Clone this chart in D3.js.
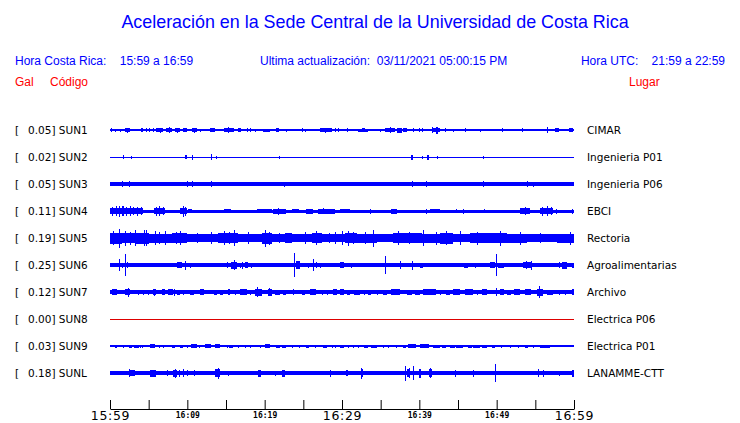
<!DOCTYPE html>
<html><head><meta charset="utf-8">
<script src="https://cdn.jsdelivr.net/npm/d3@7"></script>
<style>body{margin:0;background:#fff}svg{display:block}</style>
</head><body>
<svg id="c" width="740" height="423"></svg>
<script>
// ---------- DATA ----------
const stations = ["SUN1","SUN2","SUN3","SUN4","SUN5","SUN6","SUN7","SUN8","SUN9","SUNL"];
const peaks = [0.05,0.02,0.05,0.11,0.19,0.25,0.12,0.00,0.03,0.18];
const places = ["CIMAR","Ingenieria P01","Ingenieria P06","EBCI","Rectoria","Agroalimentarias","Archivo","Electrica P06","Electrica P01","LANAMME-CTT"];
// baseline half-thickness of each trace (display amplitude units)
const baseHalf = [0.7,0.5,1.7,1.5,2.7,1.7,1.7,0.5,0.7,2.0];
const traceColors = ["#0000ff","#0000ff","#0000ff","#0000ff","#0000ff","#0000ff","#0000ff","#dd0000","#0000ff","#0000ff"];
// bursts: [start minute, end minute, half amplitude], minutes after 15:59
const sun1 = [[0.1,0.2,2],[0.6,0.7,1.5],[1.3,1.4,1.5],[1.9,2.6,1.8],[2.2,2.3,2.5],[4.0,4.3,2],[4.6,4.7,2],[5.0,5.1,2],[5.5,5.6,2],[6.0,6.9,1.8],[6.5,6.6,2.5],[7.3,8.0,2],[7.6,7.7,3],[8.4,9.0,1.8],[8.7,8.8,2.5],[9.5,10.0,1.8],[10.6,11.2,1.8],[10.8,10.9,2.5],[11.6,11.7,1.5],[12.9,13.6,1.8],[14.7,16.0,2],[15.2,15.3,3],[16.6,17.0,1.8],[17.7,17.8,2],[18.1,18.2,2],[18.7,18.8,1.5],[19.8,20.7,1.5],[21.5,21.8,2.2],[22.8,22.9,1.5],[24.8,24.9,2],[25.2,25.3,1.5],[27.1,28.7,1.8],[27.8,27.9,2.5],[29.1,29.2,2],[29.5,29.6,2],[30.6,30.7,2],[32.1,33.4,1.5],[32.6,33.0,2.2],[34.9,35.0,1.5],[35.6,36.9,1.8],[36.2,36.3,3],[37.1,37.7,2.5],[37.9,38.4,1.8],[39.2,39.3,2],[39.9,40.0,2],[40.3,40.4,2],[41.6,42.7,1.8],[41.7,41.8,3],[42.2,42.4,3.5],[43.3,43.5,2],[44.4,44.5,1.5],[45.9,46.0,2],[47.8,47.9,1.5],[50.7,50.8,2],[53.3,53.4,2],[56.5,56.6,3],[57.5,58.0,2.2],[59.3,59.9,2.2]];
const sun2 = [[1.7,1.8,2],[2.7,2.8,1.5],[9.7,10.0,2],[10.6,10.7,2.5],[13.1,13.2,3],[13.7,13.8,1.5],[21.8,21.9,1.5],[38.9,39.2,2.5],[40.3,40.4,1.5],[41.0,41.2,2.5],[42.3,42.4,1.5],[48.2,48.3,1.5]];
const sun3 = [[1.6,1.7,3],[2.4,2.5,2.8],[9.9,10.0,3],[10.6,10.7,3],[13.1,13.2,3.2],[22.5,22.6,2.5],[39.1,39.2,3],[40.9,41.0,3.2],[48.2,48.3,3],[53.9,54.0,3],[54.7,54.8,2.5]];
const sun4 = [[0,4.3,3.2],[0.3,0.4,4.5],[0.8,0.9,5],[1.2,1.3,5.5],[1.6,1.8,5],[2.1,2.2,4.5],[2.6,2.7,5],[3.0,3.1,4],[3.5,3.6,4.5],[4.0,4.1,4],[5.7,7.1,3.2],[6.0,6.1,4.5],[6.4,6.5,5],[6.8,6.9,4],[9.0,10.0,3.2],[9.4,9.5,5.5],[9.7,9.8,4.5],[10.1,10.6,2.3],[14.7,15.7,2.3],[19.0,20.9,2.3],[21.1,22.8,2.5],[21.7,21.8,3.5],[23.5,24.4,2.3],[25.4,26.3,2.5],[26.9,29.1,2.5],[27.6,27.7,3.2],[29.7,31.0,2.2],[33.6,33.7,2.5],[36.4,37.1,2.5],[40.9,41.0,2.5],[41.4,42.7,2.2],[44.7,44.8,2],[45.6,45.7,2.5],[48.4,48.5,2.3],[53.0,54.3,2.8],[53.6,53.7,4],[55.6,57.3,2.8],[55.9,56.0,4.5],[56.5,56.6,5],[57.0,57.1,4],[57.7,57.8,2.5],[59.8,59.9,2.5]];
const sun5 = [[0,1.5,5.5],[0.4,0.5,7],[1.1,1.2,9.5],[1.5,3.2,5],[1.9,2.0,7.5],[2.6,2.7,6.5],[3.2,3.3,8],[3.2,5.0,5.5],[4.4,4.5,8],[4.7,4.8,8],[5.0,8.0,4.5],[5.8,5.9,7],[6.4,6.5,6],[7.1,7.2,7],[8.0,10.0,5],[8.5,8.6,6],[9.0,9.1,7],[10.0,12.3,3.8],[11.2,11.3,5],[12.3,14.0,4],[13.1,13.2,6],[14.0,16.6,5],[14.7,14.8,7],[15.4,15.5,6],[16.0,16.1,8],[16.6,19.6,4],[17.9,18.0,6],[19.6,20.9,5.5],[20.1,20.2,8.5],[20.5,20.6,6.5],[20.9,22.6,4],[21.8,21.9,5],[22.6,23.5,5],[23.5,26.1,4],[25.2,25.3,6],[26.1,27.4,5],[26.7,26.8,7],[27.4,30.4,4],[28.3,28.4,5],[29.1,29.2,6],[30.0,30.1,7],[30.4,31.9,5],[30.8,30.9,7.5],[31.4,31.5,6],[31.9,34.5,4.5],[33.0,33.1,6],[34.0,34.1,8.5],[34.5,36.6,3.8],[36.6,40.3,5],[37.3,37.4,7],[38.6,38.7,6],[40.5,40.6,8],[40.3,42.7,4.5],[42.2,42.3,6.5],[42.7,44.4,5.5],[43.5,43.6,7],[44.4,46.5,4.2],[45.3,45.4,7],[46.5,48.7,5.2],[47.4,47.5,6.5],[48.7,51.3,5],[50.4,50.5,7.5],[51.3,53.9,4.5],[53.0,53.1,6.5],[53.9,57.8,3.8],[55.6,55.7,5],[57.8,60,4.5],[59.5,59.6,6.5]];
const sun6 = [[1.1,1.2,6.3],[1.5,1.6,2.5],[2.0,2.1,10.8],[2.2,2.3,3],[7.3,7.4,2],[8.7,9.3,3],[9.7,9.8,4.5],[10.3,10.4,2.5],[11.7,11.8,2],[15.1,15.2,3],[15.7,16.4,3.5],[16.0,16.1,5],[16.8,16.9,2.5],[17.1,17.2,3.5],[17.5,17.9,3],[18.2,18.3,2.5],[19.3,19.4,2],[21.1,21.2,2],[22.4,22.5,2],[23.8,23.9,11.7],[24.1,24.6,4],[25.6,25.7,2.5],[26.3,26.4,5.8],[26.6,26.7,3],[27.1,27.2,2.5],[29.7,30.2,3],[31.2,31.3,2.5],[34.0,34.1,1.5],[35.5,35.6,8.7],[37.5,37.6,4],[39.0,39.1,4.5],[40.1,40.5,2.5],[44.6,44.7,2],[45.8,46.3,2.5],[47.2,47.3,2.5],[48.4,48.7,2],[49.1,49.8,3],[49.9,50.0,10.8],[50.2,50.9,2.5],[53.0,53.1,1.5],[53.4,54.5,3],[53.8,53.9,4],[54.4,54.5,4.5],[58.0,58.1,3],[58.4,59.1,3.5],[59.7,60,2.5]];
const sun7 = [[0.3,0.9,3],[1.9,2.6,3],[2.3,2.4,4.5],[3.6,3.7,2.5],[4.3,4.4,2.5],[4.9,5.0,2.5],[5.5,6.0,3],[5.7,5.8,3.5],[6.7,7.1,3],[7.5,8.2,3],[8.3,8.4,3.5],[8.6,9.0,2.5],[9.4,9.5,2.5],[10.3,10.8,2.5],[11.6,12.2,3],[13.4,13.8,2.5],[14.2,14.6,2.5],[15.2,15.5,3],[16.2,16.3,2.5],[16.8,17.7,3],[18.1,18.2,2.5],[18.8,19.6,3.5],[19.0,19.1,5],[20.4,20.9,3.5],[20.6,20.7,4],[21.3,22.0,2.5],[22.4,22.8,2.5],[23.7,23.8,3],[24.8,25.2,2.5],[25.9,26.6,3],[27.4,27.5,2.5],[28.0,28.1,2.5],[28.9,29.4,3],[29.7,30.2,3],[30.6,31.0,2.5],[31.5,32.3,2.5],[32.8,32.9,2.5],[33.4,33.8,2.5],[34.5,34.6,2.5],[35.3,35.8,2.5],[36.4,37.5,3],[38.4,39.0,2.5],[39.4,40.1,2.5],[40.5,42.2,3],[42.7,42.8,2.5],[43.5,44.0,2.5],[44.4,45.3,3],[45.9,47.0,3],[47.5,47.6,2.5],[48.1,48.7,3],[49.9,50.0,4.3],[50.4,50.9,3],[51.3,51.8,2.5],[52.2,53.0,3],[53.7,54.5,3],[55.2,56.0,3.5],[55.5,55.6,5.8],[56.5,57.3,2.5],[58.0,58.1,2.5],[58.8,59.0,2.5],[59.7,60,3]];
const sun8 = [];
const sun9 = [[0.6,0.9,1.5],[1.7,1.8,1.5],[2.4,2.8,1.5],[3.1,3.7,1.5],[3.9,4.0,1.5],[4.1,4.2,1.5],[5.2,5.8,2],[6.3,6.4,1.5],[6.8,6.9,1.5],[8.0,8.4,1.5],[9.0,9.5,1.5],[9.9,10.0,1.5],[10.5,11.2,2],[11.5,11.6,1.5],[12.3,13.1,2],[13.6,14.2,2],[15.1,15.2,1.5],[15.4,15.9,1.5],[16.6,16.7,1.5],[17.4,17.5,1.5],[18.1,18.2,1.5],[19.4,19.5,1.5],[20.0,20.7,2],[21.5,22.0,1.5],[22.3,22.8,1.5],[23.5,23.6,1.5],[24.4,24.5,1.5],[25.4,25.7,1.5],[26.5,26.6,1.5],[27.6,28.0,1.5],[28.7,28.8,1.5],[29.1,29.2,1.5],[29.7,30.2,1.5],[30.8,30.9,1.5],[31.4,31.5,1.5],[32.1,32.2,1.5],[32.8,33.4,1.5],[33.8,34.5,1.5],[35.3,35.4,1.5],[36.0,36.1,1.5],[37.0,37.1,1.5],[37.9,38.3,1.5],[38.5,39.6,2],[40.1,41.2,2],[41.8,42.7,1.5],[42.9,43.5,1.5],[44.0,44.6,1.5],[44.8,45.7,1.5],[46.3,46.8,1.5],[47.0,47.8,1.5],[48.1,48.7,1.5],[49.4,49.8,1.5],[50.6,50.7,1.5],[51.7,51.8,1.5],[52.8,52.9,1.5],[53.7,54.1,1.5],[54.7,54.8,1.5],[55.6,56.9,1.5]];
const sunL = [[2.4,3.2,3],[2.5,2.6,4],[5.2,6.0,3.5],[7.4,7.5,3],[8.2,8.6,3.5],[8.4,8.5,4.5],[8.9,9.0,3.5],[9.5,9.6,4.2],[9.9,10.0,3],[10.9,11.0,3],[13.6,14.2,4],[14.0,14.1,5.5],[15.3,15.4,2.5],[19.2,19.5,3.5],[21.3,21.4,2.5],[22.3,22.6,3.5],[28.5,28.6,3.5],[30.5,30.8,3],[32.4,32.7,4],[32.5,32.6,5.5],[38.1,38.2,7.5],[38.4,38.8,4],[38.6,38.7,5],[39.2,39.3,6.7],[39.9,40.2,4.5],[41.3,41.6,4],[41.4,41.5,5],[44.6,44.7,3.5],[46.9,47.0,3.5],[49.8,49.9,9.3],[55.4,55.5,4],[56.0,56.1,3.5],[58.1,58.2,2.5],[59.8,60,3.5]];
const bursts = [sun1,sun2,sun3,sun4,sun5,sun6,sun7,sun8,sun9,sunL];
const tickMinutes = [0,5,10,15,20,25,30,35,40,45,50,55,60];
const tickLabels = ["15:59","","16:09","","16:19","","16:29","","16:39","","16:49","","16:59"];
const bigTicks = ["15:59","16:29","16:59"];

// ---------- DRAW ----------
const svg = d3.select("#c");
const t0 = new Date(2021,2,11,15,59,0);
const tm = m => new Date(t0.getTime() + m*60000);
const x = d3.scaleTime().domain([tm(0), tm(60)]).range([110, 574]);
const row = d3.scalePoint().domain(stations).range([130, 373]);
const amp = d3.scaleLinear().domain([-13.5, 13.5]).range([13.5, -13.5]);

// header
svg.append("text").attr("x",375).attr("y",28).attr("text-anchor","middle")
  .attr("font-family","Liberation Sans, Arial, sans-serif").attr("font-size",17.9).attr("fill","#0000ff")
  .text("Aceleración en la Sede Central de la Universidad de Costa Rica");
const hdr = (tx, xx, yy, col, anchor) => svg.append("text").attr("x",xx).attr("y",yy)
  .attr("font-family","Liberation Sans, Arial, sans-serif").attr("font-size",12).attr("fill",col)
  .attr("text-anchor",anchor||"start").attr("xml:space","preserve").style("white-space","pre").text(tx);
hdr("Hora Costa Rica:    15:59 a 16:59", 15, 65, "#0000ff");
hdr("Ultima actualización:  03/11/2021 05:00:15 PM", 260, 65, "#0000ff");
hdr("Hora UTC:    21:59 a 22:59", 725, 65, "#0000ff", "end");
hdr("Gal", 15, 86, "#ff0000");
hdr("Código", 50, 86, "#ff0000");
hdr("Lugar", 629, 86, "#ff0000");

// rows
const g = svg.append("g").attr("shape-rendering","crispEdges");
stations.forEach((s, i) => {
  const cy = row(s);
  const col = traceColors[i];
  const rg = g.append("g").attr("transform", `translate(0,${cy})`);
  const bh = Math.max(0.5, baseHalf[i]);
  rg.append("rect").attr("x", x(tm(0))).attr("width", x(tm(60)) - x(tm(0)))
    .attr("y", amp(bh)).attr("height", Math.max(1, amp(-bh) - amp(bh))).attr("fill", col);
  rg.selectAll("rect.b").data(bursts[i]).join("rect").attr("class","b")
    .attr("x", d => x(tm(d[0])))
    .attr("width", d => Math.max(1, x(tm(d[1])) - x(tm(d[0]))))
    .attr("y", d => amp(d[2]))
    .attr("height", d => amp(-d[2]) - amp(d[2]))
    .attr("fill", col);
  const lab = svg.append("g").attr("font-family","DejaVu Sans, sans-serif").attr("font-size",10.5).attr("fill","#000");
  lab.append("text").attr("x",15).attr("y",cy+4).text("[");
  lab.append("text").attr("x",28).attr("y",cy+4).text(peaks[i].toFixed(2) + "] " + s);
  lab.append("text").attr("x",587).attr("y",cy+4).text(places[i]);
});

// axis
const axis = d3.axisBottom(x).tickValues(tickMinutes.map(tm)).tickSizeInner(-9).tickSizeOuter(0)
  .tickFormat((d,i) => tickLabels[i]);
const ag = svg.append("g").attr("transform","translate(0,409)").call(axis);
ag.select(".domain").attr("stroke","#000");
ag.selectAll(".tick line").attr("stroke","#000");
ag.selectAll(".tick text").each(function(d,i){
  const t = d3.select(this);
  const lbl = tickLabels[i];
  if (bigTicks.includes(lbl)) {
    t.attr("font-family","DejaVu Sans, sans-serif").attr("font-size",12.5).attr("letter-spacing","0.7px").attr("y",11).attr("dy",0);
  } else {
    t.attr("font-family","DejaVu Sans Mono, monospace").attr("font-size",8).attr("font-weight","bold").attr("y",9).attr("dy",0);
  }
  t.attr("fill","#000");
});
</script>
</body></html>
